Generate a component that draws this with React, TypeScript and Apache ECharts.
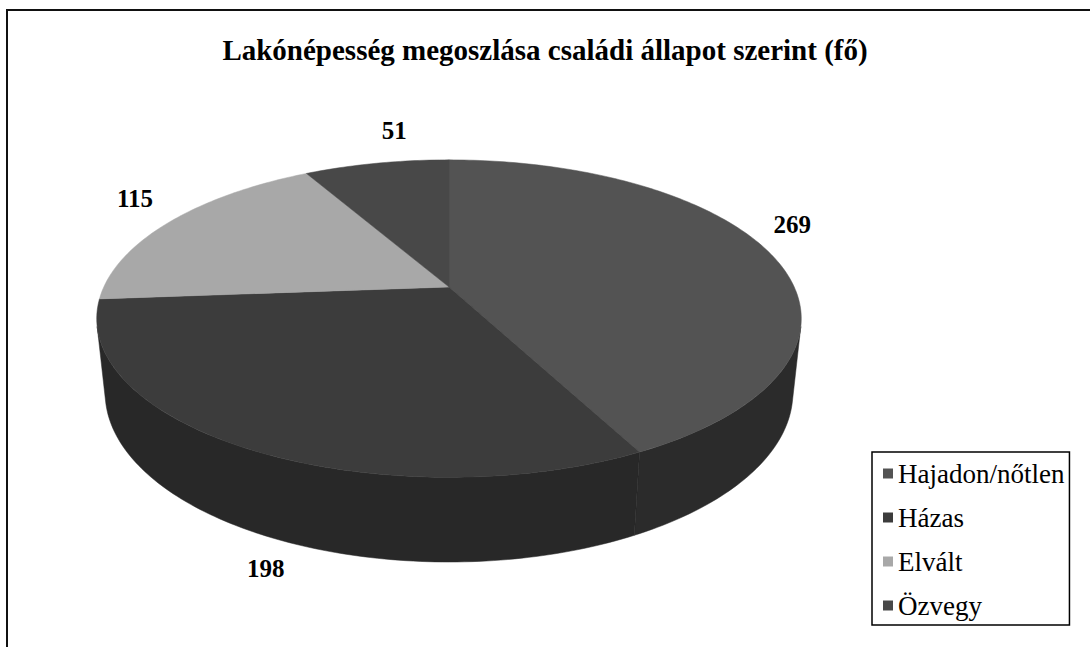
import React, { useEffect, useRef } from "react";
import * as echarts from "echarts";

// Population by marital status (persons)
const titleText = "Lakónépesség megoszlása családi állapot szerint (fő)";
const categories = ["Hajadon/nőtlen", "Házas", "Elvált", "Özvegy"];
const values = [269, 198, 115, 51];

// Styling kept apart from the data
const SERIF = "Times New Roman, Liberation Serif, serif";
const topColors = ["#535353", "#3c3c3c", "#a8a8a8", "#484848"];
const sideColors = ["#2b2b2b", "#282828", "#6e6e6e", "#2a2a2a"];
const labelNudge: number[][] = [
  [-14, -25],
  [45, 12],
  [-6, -15],
  [25, -21],
];

// Perspective camera for the 3D pie (unit radius disc, thickness in radius units)
const VIEW = {
  cx: 449,
  cy: 287,
  focal: 1557,
  dist: 4.51,
  tilt: (26.2 * Math.PI) / 180,
  depth: 0.24,
};

function project(theta: number, r: number, h: number): number[] {
  const x = r * Math.sin(theta);
  const z = r * Math.cos(theta);
  const s = Math.sin(VIEW.tilt);
  const c = Math.cos(VIEW.tilt);
  const v = h * c + z * s;
  const w = z * c - h * s + VIEW.dist;
  return [VIEW.cx + (VIEW.focal * x) / w, VIEW.cy - (VIEW.focal * v) / w];
}

function arc(a0: number, a1: number, h: number): number[][] {
  const pts: number[][] = [];
  const n = Math.max(2, Math.ceil(Math.abs(a1 - a0) / (Math.PI / 180)));
  for (let k = 0; k <= n; k++) {
    pts.push(project(a0 + ((a1 - a0) * k) / n, 1, h));
  }
  return pts;
}

const total = values.reduce((a, b) => a + b, 0);
// outer wall is visible only where it faces the camera
const silhouette = Math.acos(-1 / (VIEW.dist * Math.cos(VIEW.tilt)));

function renderSlice(params: any, api: any) {
  const i = params.seriesIndex;
  const before = values.slice(0, i).reduce((a, b) => a + b, 0);
  const start = (before / total) * Math.PI * 2;
  const end = start + (api.value(0) / total) * Math.PI * 2;
  const children: any[] = [];

  const lo = Math.max(start, silhouette);
  const hi = Math.min(end, Math.PI * 2 - silhouette);
  if (hi > lo) {
    const wall = arc(lo, hi, 0).concat(arc(hi, lo, -VIEW.depth));
    children.push({
      type: "polygon",
      z2: 1,
      shape: { points: wall },
      style: { fill: sideColors[i], stroke: sideColors[i], lineWidth: 0.5 },
    });
  }

  const face = [project(0, 0, 0)].concat(arc(start, end, 0));
  children.push({
    type: "polygon",
    z2: 10,
    shape: { points: face },
    style: { fill: topColors[i], stroke: topColors[i], lineWidth: 0.5 },
  });

  const mid = (start + end) / 2;
  const front = Math.cos(mid) < -0.5;
  const anchor = project(mid, 1.12, front ? -VIEW.depth : 0);
  children.push({
    type: "text",
    z2: 20,
    x: anchor[0] + labelNudge[i][0],
    y: anchor[1] + labelNudge[i][1],
    style: {
      text: String(api.value(0)),
      fontFamily: SERIF,
      fontWeight: "bold",
      fontSize: 25,
      fill: "#000",
      align: "center",
      verticalAlign: "middle",
    },
  });

  return { type: "group", children };
}

export default function App() {
  const ref = useRef<HTMLDivElement>(null);

  useEffect(() => {
    if (!ref.current) return;
    const chart = echarts.init(ref.current, undefined, { renderer: "svg" });
    chart.setOption({
      animation: false,
      backgroundColor: "#ffffff",
      textStyle: { fontFamily: SERIF },
      title: {
        text: titleText,
        left: "center",
        top: 30,
        textStyle: {
          fontFamily: SERIF,
          fontWeight: "bold",
          fontSize: 29,
          color: "#000",
        },
      },
      legend: {
        orient: "vertical",
        left: 872,
        top: 452,
        data: categories,
        icon: "rect",
        itemWidth: 10,
        itemHeight: 10,
        itemGap: 17,
        selectedMode: false,
        borderColor: "#000",
        borderWidth: 1.5,
        padding: [8, 5, 6, 11],
        textStyle: {
          fontFamily: SERIF,
          fontSize: 27,
          color: "#000",
        },
      },
      graphic: [
        {
          type: "rect",
          shape: { x: 7, y: 10, width: 1200, height: 800 },
          style: { fill: "none", stroke: "#111", lineWidth: 2 },
          silent: true,
        },
      ],
      series: categories.map((name, i) => ({
        type: "custom",
        name,
        coordinateSystem: "none",
        renderItem: renderSlice,
        itemStyle: { color: topColors[i] },
        data: [values[i]],
        silent: true,
      })),
    });
    return () => chart.dispose();
  }, []);

  return (
    <div
      ref={ref}
      style={{ position: "fixed", left: 0, top: 0, width: 1090, height: 647 }}
    />
  );
}
